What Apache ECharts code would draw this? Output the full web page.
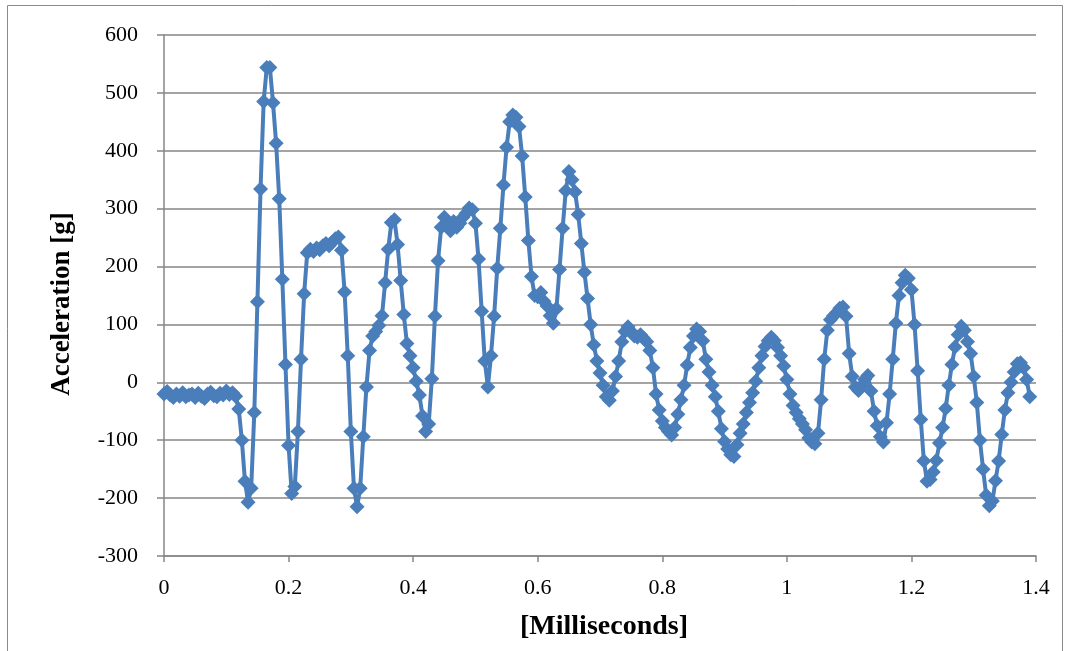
<!DOCTYPE html>
<html><head><meta charset="utf-8">
<script src="https://cdn.jsdelivr.net/npm/echarts@6/dist/echarts.min.js"></script>
<style>html,body{margin:0;padding:0;background:#fff}#c{width:1071px;height:651px}</style>
</head><body><div id="c"></div>
<script>
// sampling step of the recorded trace, in milliseconds
const sampleStepMs = 0.005;
// acceleration samples [g], one per sample step starting at 0 ms
const accelG = [
  -20, -16, -22, -26, -20, -24, -18, -25, -22, -20,
  -26, -19, -24, -28, -20, -17, -23, -25, -19, -22,
  -15, -21, -18, -24, -46, -100, -171, -207, -183, -52,
  139, 334, 485, 544, 544, 483, 413, 317, 178, 31,
  -109, -192, -180, -85, 40, 153, 224, 230, 226, 232,
  229, 236, 240, 236, 242, 248, 251, 228, 156, 46,
  -85, -183, -215, -183, -94, -8, 55, 80, 88, 98,
  115, 172, 230, 276, 281, 238, 176, 117, 67, 46,
  25, 2, -22, -58, -85, -72, 6, 114, 210, 268,
  285, 270, 262, 278, 268, 275, 285, 292, 301, 298,
  275, 213, 123, 37, -8, 46, 114, 197, 266, 341,
  406, 450, 462, 458, 442, 391, 320, 245, 183, 150,
  148, 155, 140, 132, 115, 102, 127, 195, 266, 331,
  364, 350, 329, 290, 240, 190, 145, 100, 65, 37,
  16, -5, -25, -31, -15, 10, 37, 70, 88, 96,
  88, 80, 78, 82, 76, 70, 55, 25, -20, -48,
  -67, -78, -85, -91, -78, -55, -30, -5, 30, 60,
  80, 92, 88, 72, 40, 18, -5, -25, -50, -80,
  -102, -115, -125, -128, -108, -88, -72, -52, -35, -18,
  2, 25, 46, 62, 72, 78, 72, 60, 46, 28,
  5, -20, -40, -52, -63, -72, -82, -96, -103, -106,
  -88, -30, 40, 90, 108, 115, 120, 128, 130, 114,
  50, 10, -8, -14, -6, 5, 12, -15, -50, -75,
  -94, -103, -70, -20, 40, 102, 150, 172, 185, 180,
  160, 100, 20, -64, -136, -171, -168, -155, -135, -105,
  -78, -45, -5, 31, 61, 82, 97, 90, 70, 50,
  10, -35, -100, -150, -195, -213, -205, -170, -136, -90,
  -48, -18, 0, 18, 32, 34, 25, 5, -25
];
const xAxisRange = [0, 1.4, 0.2];
const yAxisRange = [-300, 600, 100];
const xTitle = '[Milliseconds]';
const yTitle = 'Acceleration [g]';

const seriesData = accelG.map((v, i) => [+(i * sampleStepMs).toFixed(3), v]);
const serif = '"Liberation Serif", "Times New Roman", serif';
const gridColor = '#868686';

const chart = echarts.init(document.getElementById('c'), null, {renderer: 'canvas'});
chart.setOption({
  animation: false,
  backgroundColor: '#ffffff',
  grid: {left: 164, right: 35, top: 35, bottom: 95, containLabel: false},
  xAxis: {
    type: 'value', min: xAxisRange[0], max: xAxisRange[1], interval: xAxisRange[2],
    axisLine: {show: true, onZero: false, lineStyle: {color: gridColor, width: 1.5}},
    axisTick: {show: true, length: 6, lineStyle: {color: gridColor, width: 1.5}},
    splitLine: {show: false},
    axisLabel: {color: '#000', fontFamily: serif, fontSize: 22, margin: 21,
      formatter: v => String(+v.toFixed(1))}
  },
  yAxis: {
    type: 'value', min: yAxisRange[0], max: yAxisRange[1], interval: yAxisRange[2],
    axisLine: {show: true, lineStyle: {color: gridColor, width: 1.5}},
    axisTick: {show: true, length: 7, lineStyle: {color: gridColor, width: 1.5}},
    splitLine: {show: true, lineStyle: {color: gridColor, width: 1.5}},
    axisLabel: {color: '#000', fontFamily: serif, fontSize: 22, margin: 26}
  },
  graphic: [
    {type: 'rect', silent: true, shape: {x: 7.5, y: 5.5, width: 1055, height: 660},
      style: {fill: 'none', stroke: '#8a8a8a', lineWidth: 1}},
    {type: 'text', x: 62, y: 304, rotation: Math.PI / 2,
      style: {text: yTitle, fontFamily: serif, fontWeight: 'bold', fontSize: 27,
        fill: '#000', align: 'center', verticalAlign: 'middle'}},
    {type: 'text', x: 604, y: 627,
      style: {text: xTitle, fontFamily: serif, fontWeight: 'bold', fontSize: 28,
        fill: '#000', align: 'center', verticalAlign: 'middle'}}
  ],
  series: [{
    type: 'line',
    data: seriesData,
    showSymbol: true,
    showAllSymbol: true,
    symbol: 'diamond',
    symbolSize: 15,
    lineStyle: {color: '#4A7EBB', width: 4},
    itemStyle: {color: '#4A7EBB'},
    z: 3
  }]
});
</script></body></html>
